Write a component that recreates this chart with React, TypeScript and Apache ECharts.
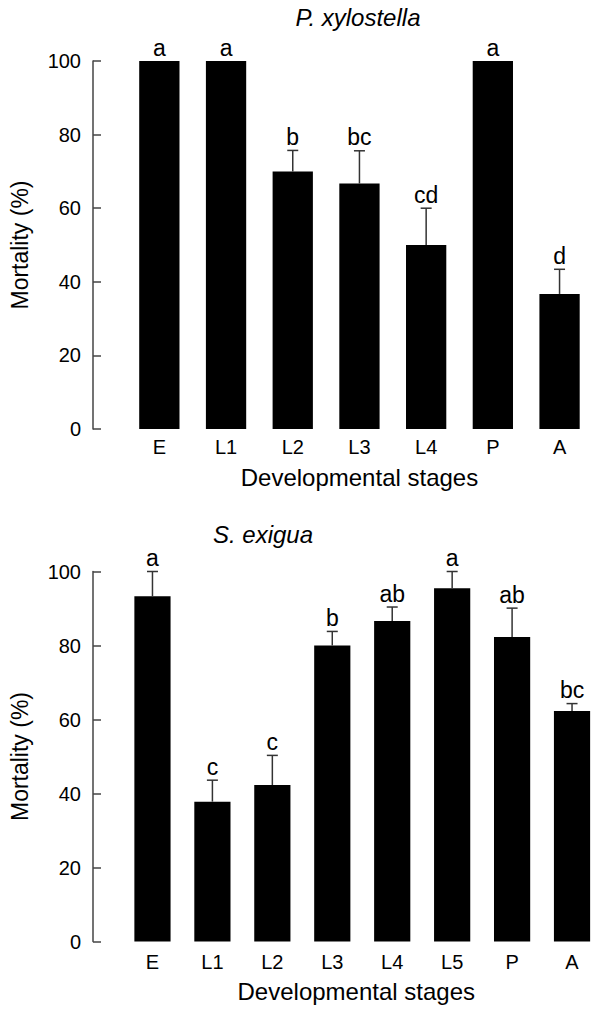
import React, { useEffect, useRef } from 'react';
import * as echarts from 'echarts';

// P. xylostella
const stagesA = ['E', 'L1', 'L2', 'L3', 'L4', 'P', 'A'];
const meanA = [100, 100, 70, 66.7, 50, 100, 36.7];
const seA = [0, 0, 5.7, 8.9, 10, 0, 6.7];
const lettersA = ['a', 'a', 'b', 'bc', 'cd', 'a', 'd'];

// S. exigua
const stagesB = ['E', 'L1', 'L2', 'L3', 'L4', 'L5', 'P', 'A'];
const meanB = [93.3, 37.8, 42.3, 80, 86.6, 95.5, 82.3, 62.3];
const seB = [6.7, 5.8, 8.0, 3.8, 3.8, 4.5, 7.8, 2.0];
const lettersB = ['a', 'c', 'c', 'b', 'ab', 'a', 'ab', 'bc'];

const titles = ['P. xylostella', 'S. exigua'];
const xName = 'Developmental stages';
const yName = 'Mortality (%)';

const FONT = '"Liberation Sans", Arial, Helvetica, sans-serif';
const AXIS_COLOR = '#444';

function makeRenderItem(letters: string[]) {
  return (params: any, api: any) => {
    const i = params.dataIndex;
    const m = api.value(1);
    const s = api.value(2);
    const base = api.coord([i, m]);
    const top = api.coord([i, m + s]);
    const children: any[] = [];
    if (s > 0) {
      children.push({
        type: 'line',
        shape: { x1: base[0], y1: base[1], x2: top[0], y2: top[1] },
        style: { stroke: '#333', lineWidth: 1.5 },
      });
      children.push({
        type: 'line',
        shape: { x1: top[0] - 5.5, y1: top[1], x2: top[0] + 5.5, y2: top[1] },
        style: { stroke: '#333', lineWidth: 1.5 },
      });
    }
    children.push({
      type: 'text',
      x: top[0],
      y: top[1] - 13.5,
      style: {
        text: letters[i],
        fill: '#000',
        font: `23px ${FONT}`,
        align: 'center',
        verticalAlign: 'middle',
        textAlign: 'center',
        textVerticalAlign: 'middle',
      },
    });
    return { type: 'group', children };
  };
}

function xAxisCfg(gridIndex: number, data: string[], nameGap: number, labelMargin: number, padRight: number) {
  return {
    gridIndex,
    type: 'category',
    data,
    axisLine: { show: false },
    axisTick: { show: false },
    axisLabel: { fontSize: 20, color: '#000', margin: labelMargin, fontFamily: FONT },
    name: xName,
    nameLocation: 'middle',
    nameGap,
    nameTextStyle: { fontSize: 24, color: '#000', fontFamily: FONT, padding: [0, padRight, 0, 0] },
  };
}

function yAxisCfg(gridIndex: number, offset: number) {
  return {
    gridIndex,
    type: 'value',
    min: 0,
    max: 100,
    interval: 20,
    offset,
    axisLine: { show: true, lineStyle: { color: AXIS_COLOR, width: 1.5 } },
    axisTick: { show: true, inside: true, length: 8, lineStyle: { color: AXIS_COLOR, width: 1.5 } },
    splitLine: { show: false },
    axisLabel: { fontSize: 20, color: '#000', margin: 12, fontFamily: FONT },
    name: yName,
    nameLocation: 'middle',
    nameGap: 62,
    nameTextStyle: { fontSize: 23, color: '#000', fontFamily: FONT },
  };
}

export default function App() {
  const ref = useRef<HTMLDivElement>(null);
  useEffect(() => {
    if (!ref.current) return;
    const chart = echarts.init(ref.current, undefined, { renderer: 'svg' });
    chart.setOption({
      animation: false,
      backgroundColor: '#fff',
      grid: [
        { left: 125.8, top: 61, width: 467.1, height: 368 },
        { left: 121.5, top: 571.5, width: 491.1, height: 370 },
      ],
      xAxis: [xAxisCfg(0, stagesA, 36, 8, 0), xAxisCfg(1, stagesB, 38, 10, 12)],
      yAxis: [yAxisCfg(0, 33), yAxisCfg(1, 29.5)],
      graphic: [
        {
          type: 'text',
          x: 358,
          y: 17,
          style: {
            text: titles[0],
            fill: '#000',
            font: `italic 24px ${FONT}`,
            align: 'center',
            verticalAlign: 'middle',
            textAlign: 'center',
            textVerticalAlign: 'middle',
          },
        },
        {
          type: 'text',
          x: 263,
          y: 534.5,
          style: {
            text: titles[1],
            fill: '#000',
            font: `italic 24px ${FONT}`,
            align: 'center',
            verticalAlign: 'middle',
            textAlign: 'center',
            textVerticalAlign: 'middle',
          },
        },
      ],
      series: [
        {
          type: 'bar',
          xAxisIndex: 0,
          yAxisIndex: 0,
          data: meanA,
          barWidth: '60.4%',
          itemStyle: { color: '#000' },
        },
        {
          type: 'custom',
          xAxisIndex: 0,
          yAxisIndex: 0,
          clip: false,
          z: 5,
          data: meanA.map((m, i) => [i, m, seA[i]]),
          encode: { x: 0, y: 1 },
          renderItem: makeRenderItem(lettersA),
        },
        {
          type: 'bar',
          xAxisIndex: 1,
          yAxisIndex: 1,
          data: meanB,
          barWidth: '60.4%',
          itemStyle: { color: '#000' },
        },
        {
          type: 'custom',
          xAxisIndex: 1,
          yAxisIndex: 1,
          clip: false,
          z: 5,
          data: meanB.map((m, i) => [i, m, seB[i]]),
          encode: { x: 0, y: 1 },
          renderItem: makeRenderItem(lettersB),
        },
      ],
    });
    return () => chart.dispose();
  }, []);
  return (
    <div
      ref={ref}
      style={{ position: 'absolute', left: 0, top: 0, width: 602, height: 1010, overflow: 'hidden' }}
    />
  );
}
